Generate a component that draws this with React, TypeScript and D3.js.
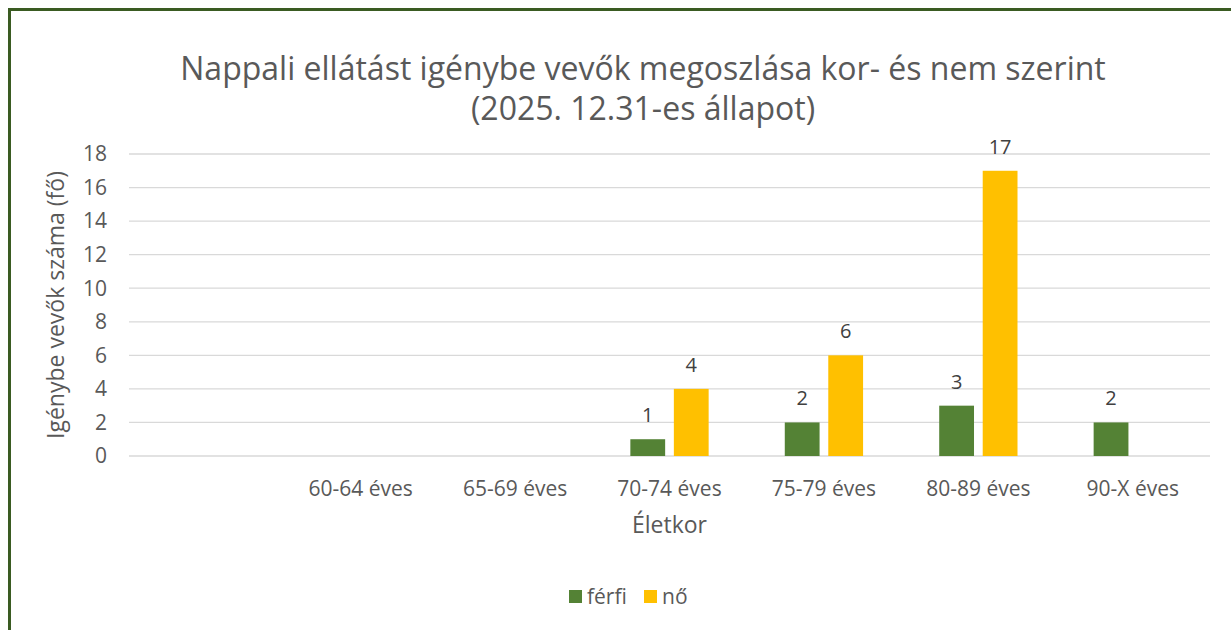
import React, { useEffect, useRef } from 'react';
import * as d3 from 'd3';

// chart data
const categories = ['', '60-64 éves', '65-69 éves', '70-74 éves', '75-79 éves', '80-89 éves', '90-X éves'];
const seriesNames = ['férfi', 'nő'];
const ferfi = [null, null, null, 1, 2, 3, 2];
const no = [null, null, null, 4, 6, 17, null];
const yTicks = [0, 2, 4, 6, 8, 10, 12, 14, 16, 18];
const colors = ['#548235', '#FFC000'];

const titleLines = ['Nappali ellátást igénybe vevők megoszlása kor- és nem szerint', '(2025. 12.31-es állapot)'];

const FONT = "'Open Sans', 'Noto Sans', sans-serif";

export default function App() {
  const ref = useRef<SVGSVGElement>(null);

  useEffect(() => {
    const W = 1231, H = 630;
    const margin = { top: 154, right: 21, bottom: 174, left: 129 };
    const w = W - margin.left - margin.right;
    const h = H - margin.top - margin.bottom;

    const svg = d3.select(ref.current);
    svg.selectAll('*').remove();

    svg.append('rect').attr('width', W).attr('height', H).attr('fill', '#fff');

    // frame (cut off at right and bottom)
    svg.append('rect')
      .attr('x', 9.5).attr('y', 9.5)
      .attr('width', W + 20).attr('height', H + 20)
      .attr('fill', 'none').attr('stroke', '#3A5B22').attr('stroke-width', 3);

    // title, one text per line
    svg.selectAll('.title').data(titleLines).join('text')
      .attr('class', 'title')
      .attr('x', 643).attr('y', (d, i) => 80 + i * 40)
      .attr('text-anchor', 'middle')
      .style('font-family', FONT).style('font-size', '32px').style('fill', '#595959')
      .text(d => d);

    const g = svg.append('g').attr('transform', `translate(${margin.left}, ${margin.top})`);

    const x0 = d3.scaleBand().domain(categories.map((c, i) => String(i))).range([0, w]).padding(0);
    const groupW = x0.bandwidth() * 0.507;
    const x1 = d3.scaleBand().domain(seriesNames).range([0, groupW]).paddingInner(0.2).paddingOuter(0);
    const y = d3.scaleLinear().domain([0, 18]).range([h, 0]);

    // gridlines
    g.selectAll('.grid').data(yTicks).join('line')
      .attr('class', 'grid')
      .attr('x1', 0).attr('x2', w)
      .attr('y1', d => y(d)).attr('y2', d => y(d))
      .attr('stroke', '#D9D9D9').attr('stroke-width', 1.3);

    // y tick labels
    g.selectAll('.ylab').data(yTicks).join('text')
      .attr('class', 'ylab')
      .attr('x', -22).attr('y', d => y(d))
      .attr('dy', '0.35em')
      .attr('text-anchor', 'end')
      .style('font-family', FONT).style('font-size', '21px').style('fill', '#595959')
      .text(d => d);

    // x labels
    g.selectAll('.xlab').data(categories).join('text')
      .attr('class', 'xlab')
      .attr('x', (d, i) => x0(String(i))! + x0.bandwidth() / 2)
      .attr('y', h + 40)
      .attr('text-anchor', 'middle')
      .style('font-family', FONT).style('font-size', '21px').style('fill', '#595959')
      .text(d => d);

    // bars
    const series = [ferfi, no];
    series.forEach((vals, si) => {
      const items = vals.map((v, i) => ({ v, i })).filter(d => d.v != null) as { v: number; i: number }[];
      const bx = (d: { i: number }) => x0(String(d.i))! + (x0.bandwidth() - groupW) / 2 + x1(seriesNames[si])!;
      g.selectAll('.bar' + si).data(items).join('rect')
        .attr('class', 'bar' + si)
        .attr('x', bx)
        .attr('y', d => y(d.v))
        .attr('width', x1.bandwidth())
        .attr('height', d => h - y(d.v))
        .attr('fill', colors[si]);
      g.selectAll('.val' + si).data(items).join('text')
        .attr('class', 'val' + si)
        .attr('x', d => bx(d) + x1.bandwidth() / 2)
        .attr('y', d => y(d.v) - 17)
        .attr('text-anchor', 'middle')
        .style('font-family', FONT).style('font-size', '20px').style('fill', '#404040')
        .text(d => d.v);
    });

    // axis titles
    svg.append('text')
      .attr('x', margin.left + w / 2).attr('y', 533)
      .attr('text-anchor', 'middle')
      .style('font-family', FONT).style('font-size', '23px').style('fill', '#595959')
      .text('Életkor');

    svg.append('text')
      .attr('transform', `translate(64, ${margin.top + h / 2}) rotate(-90)`)
      .attr('text-anchor', 'middle')
      .style('font-family', FONT).style('font-size', '23px').style('fill', '#595959')
      .text('Igénybe vevők száma (fő)');

    // legend
    const leg = svg.append('g').attr('transform', 'translate(569, 590)');
    const legX = [0, 75];
    seriesNames.forEach((s, i) => {
      leg.append('rect').attr('x', legX[i]).attr('y', 0).attr('width', 13).attr('height', 13).attr('fill', colors[i]);
      leg.append('text').attr('x', legX[i] + 18).attr('y', 7).attr('dy', '0.35em')
        .style('font-family', FONT).style('font-size', '21px').style('fill', '#595959')
        .text(s);
    });
  }, []);

  return (
    <div style={{ position: 'fixed', left: 0, top: 0 }}>
      <svg ref={ref} width={1231} height={630} style={{ display: 'block' }}></svg>
    </div>
  );
}
